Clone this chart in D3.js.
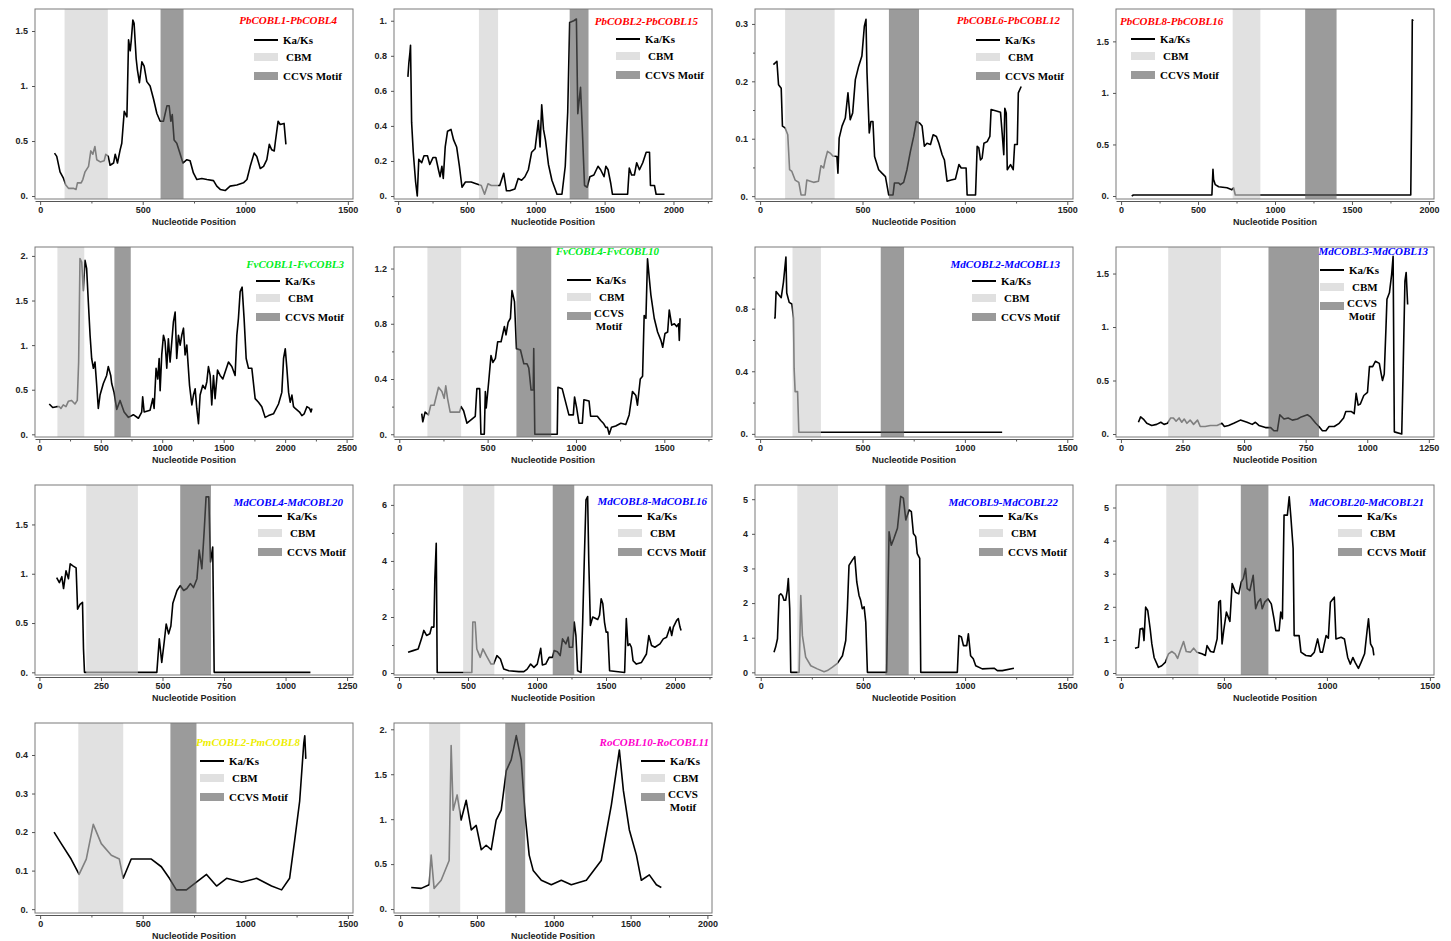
<!DOCTYPE html>
<html>
<head>
<meta charset="utf-8">
<script src="https://cdn.jsdelivr.net/npm/d3@7/dist/d3.min.js"></script>
<style>
body { margin: 0; background: #fff; }
.tick-label { font-family: "Liberation Sans", Arial, sans-serif; font-weight: bold; font-size: 9px; fill: #222; }
.axis-title { font-family: "Liberation Sans", Arial, sans-serif; font-weight: bold; font-size: 9px; fill: #222; }
.legend-text { font-family: "Liberation Serif", "Times New Roman", serif; font-weight: bold; font-size: 11px; fill: #000; }
.panel-title { font-family: "Liberation Serif", "Times New Roman", serif; font-style: italic; font-weight: bold; font-size: 11px; }
</style>
</head>
<body>
<svg id="chart" width="1451" height="941"></svg>
<script>
// Ka/Ks sliding window values: [nucleotide position, Ka/Ks]
var kaks1 = [[70,0.39],[81,0.36],[97,0.22],[114,0.16],[125,0.10],[138,0.07],[162,0.07],[175,0.06],[182,0.12],[200,0.12],[208,0.15],[219,0.22],[236,0.27],[247,0.41],[257,0.38],[267,0.45],[276,0.33],[293,0.31],[312,0.32],[320,0.38],[332,0.36],[341,0.28],[358,0.30],[366,0.38],[377,0.30],[390,0.42],[398,0.48],[410,0.77],[423,0.72],[431,1.42],[439,1.32],[444,1.41],[452,1.60],[458,1.57],[468,1.25],[474,1.15],[484,1.03],[496,1.22],[507,1.18],[520,1.04],[536,1.00],[553,0.88],[569,0.75],[585,0.68],[601,0.68],[618,0.82],[629,0.82],[637,0.68],[644,0.74],[653,0.51],[666,0.48],[683,0.38],[696,0.30],[715,0.33],[731,0.32],[747,0.21],[764,0.15],[788,0.16],[813,0.15],[845,0.14],[861,0.09],[878,0.06],[902,0.05],[926,0.09],[959,0.10],[991,0.12],[1008,0.15],[1024,0.27],[1043,0.39],[1056,0.36],[1073,0.25],[1089,0.27],[1105,0.33],[1117,0.47],[1129,0.42],[1141,0.41],[1147,0.50],[1160,0.68],[1170,0.65],[1189,0.66],[1198,0.47]];

var kaks2 = [[71,0.68],[78,0.76],[86,0.82],[90,0.86],[98,0.42],[110,0.25],[127,0.08],[139,0.0],[150,0.21],[171,0.19],[188,0.23],[213,0.23],[230,0.18],[254,0.22],[274,0.22],[293,0.15],[305,0.11],[318,0.17],[328,0.10],[342,0.28],[359,0.37],[384,0.38],[403,0.32],[425,0.28],[445,0.17],[464,0.05],[489,0.08],[530,0.08],[567,0.07],[604,0.06],[628,0.01],[653,0.07],[677,0.06],[701,0.06],[738,0.06],[767,0.13],[787,0.03],[811,0.03],[848,0.04],[872,0.10],[897,0.09],[921,0.11],[946,0.15],[970,0.25],[995,0.27],[1019,0.43],[1031,0.28],[1043,0.52],[1056,0.38],[1070,0.32],[1092,0.18],[1117,0.09],[1154,0.01],[1190,0.01],[1214,0.17],[1232,0.48],[1246,0.99],[1276,1.0],[1295,1.01],[1305,0.47],[1325,0.62],[1337,0.40],[1354,0.06],[1373,0.05],[1393,0.11],[1422,0.12],[1452,0.17],[1471,0.15],[1496,0.11],[1509,0.17],[1525,0.15],[1545,0.07],[1557,0.01],[1667,0.01],[1679,0.16],[1696,0.12],[1716,0.12],[1733,0.19],[1753,0.15],[1777,0.19],[1802,0.25],[1826,0.25],[1833,0.06],[1862,0.06],[1874,0.01],[1935,0.01]];

var kaks3 = [[65,0.229],[82,0.235],[90,0.194],[103,0.188],[109,0.122],[122,0.119],[135,0.107],[144,0.046],[155,0.043],[171,0.028],[189,0.024],[200,0.002],[220,0.002],[228,0.028],[245,0.026],[261,0.024],[285,0.026],[297,0.053],[310,0.049],[318,0.063],[329,0.078],[342,0.075],[355,0.070],[375,0.069],[380,0.040],[386,0.101],[400,0.122],[416,0.136],[429,0.180],[440,0.133],[452,0.145],[465,0.203],[481,0.226],[497,0.244],[509,0.296],[517,0.308],[522,0.215],[533,0.110],[541,0.130],[551,0.130],[559,0.069],[579,0.046],[595,0.040],[612,0.034],[628,0.002],[649,0.002],[656,0.023],[677,0.023],[685,0.020],[701,0.024],[717,0.046],[734,0.078],[750,0.104],[763,0.130],[780,0.127],[791,0.122],[802,0.087],[815,0.092],[832,0.090],[845,0.107],[861,0.104],[873,0.092],[889,0.072],[900,0.063],[913,0.026],[933,0.028],[954,0.030],[971,0.055],[982,0.049],[995,0.049],[1006,0.049],[1011,0.002],[1052,0.002],[1060,0.087],[1068,0.084],[1076,0.063],[1084,0.066],[1093,0.092],[1109,0.095],[1122,0.104],[1128,0.151],[1158,0.148],[1174,0.146],[1182,0.110],[1190,0.072],[1195,0.153],[1202,0.145],[1207,0.046],[1223,0.055],[1236,0.046],[1243,0.090],[1256,0.090],[1261,0.180],[1275,0.191]];

var kaks4 = [[69,0.0],[80,0.01],[590,0.01],[597,0.26],[601,0.16],[612,0.11],[634,0.09],[688,0.08],[720,0.06],[731,0.08],[742,0.01],[1882,0.01],[1888,0.85],[1892,1.71],[1899,1.70]];

var kaks5 = [[81,0.34],[109,0.30],[141,0.31],[163,0.31],[176,0.29],[195,0.33],[217,0.31],[236,0.37],[263,0.38],[290,0.34],[309,0.38],[320,0.81],[331,1.97],[345,1.93],[358,1.61],[372,1.95],[385,1.86],[399,1.48],[413,1.11],[426,0.85],[440,0.74],[453,0.81],[467,0.55],[480,0.29],[494,0.44],[521,0.57],[548,0.66],[561,0.76],[581,0.66],[589,0.57],[608,0.47],[630,0.28],[657,0.38],[690,0.25],[725,0.19],[765,0.22],[806,0.18],[833,0.25],[841,0.42],[853,0.25],[901,0.27],[923,0.40],[934,0.29],[950,0.74],[964,0.62],[975,0.85],[983,0.49],[996,0.89],[1010,1.11],[1023,1.04],[1037,0.74],[1050,1.07],[1064,0.81],[1078,1.04],[1091,1.26],[1105,1.37],[1118,0.85],[1132,1.11],[1146,1.00],[1159,1.11],[1173,1.19],[1186,0.89],[1200,1.00],[1222,0.55],[1241,0.33],[1254,0.44],[1268,0.51],[1281,0.29],[1295,0.12],[1308,0.44],[1330,0.55],[1349,0.51],[1363,0.59],[1376,0.76],[1390,0.66],[1403,0.33],[1417,0.66],[1430,0.40],[1450,0.72],[1471,0.66],[1493,0.62],[1539,0.81],[1566,0.76],[1593,0.66],[1607,1.11],[1620,1.30],[1634,1.60],[1650,1.65],[1666,1.30],[1683,0.85],[1702,0.74],[1729,0.74],[1756,0.40],[1783,0.36],[1810,0.31],[1837,0.19],[1865,0.21],[1905,0.23],[1946,0.34],[1973,0.47],[1987,0.85],[2001,0.96],[2014,0.74],[2028,0.47],[2041,0.36],[2055,0.44],[2068,0.31],[2082,0.29],[2117,0.25],[2136,0.21],[2155,0.23],[2177,0.31],[2199,0.29],[2210,0.25],[2218,0.29]];

var kaks6 = [[127,0.15],[133,0.09],[146,0.16],[165,0.14],[178,0.21],[197,0.21],[222,0.34],[241,0.31],[254,0.26],[263,0.35],[273,0.26],[288,0.16],[316,0.16],[341,0.16],[350,0.20],[364,0.17],[383,0.08],[411,0.11],[430,0.13],[439,0.33],[455,0.33],[462,0.00],[481,0.00],[487,0.31],[492,0.19],[506,0.38],[519,0.57],[530,0.52],[544,0.55],[557,0.67],[576,0.67],[595,0.78],[604,0.72],[616,0.81],[629,0.84],[638,1.04],[652,0.96],[663,0.62],[686,0.61],[705,0.51],[723,0.51],[733,0.48],[746,0.32],[758,0.32],[761,0.62],[767,0.00],[860,0.00],[894,0.00],[898,0.34],[922,0.33],[936,0.26],[960,0.14],[985,0.14],[992,0.27],[1004,0.19],[1017,0.08],[1036,0.08],[1045,0.25],[1074,0.24],[1083,0.13],[1121,0.13],[1140,0.10],[1155,0.08],[1169,0.05],[1178,0.05],[1188,0.00],[1201,0.05],[1225,0.06],[1254,0.08],[1282,0.07],[1301,0.14],[1320,0.31],[1339,0.28],[1348,0.21],[1364,0.40],[1377,0.42],[1386,0.86],[1396,0.84],[1405,1.27],[1415,1.13],[1424,1.01],[1443,0.84],[1462,0.74],[1481,0.68],[1491,0.63],[1504,0.73],[1519,0.74],[1528,0.90],[1542,0.79],[1557,0.80],[1570,0.78],[1581,0.80],[1585,0.68],[1589,0.84]];

var kaks7 = [[68,0.74],[73,0.74],[78,0.91],[90,0.89],[103,0.87],[114,0.97],[126,1.13],[130,0.90],[142,0.84],[155,0.83],[163,0.74],[166,0.42],[171,0.27],[183,0.27],[189,0.01],[1182,0.01]];

var kaks8 = [[71,0.11],[80,0.16],[91,0.14],[105,0.10],[125,0.08],[145,0.09],[162,0.11],[175,0.09],[189,0.10],[202,0.15],[213,0.15],[224,0.12],[236,0.15],[247,0.11],[257,0.14],[268,0.10],[281,0.13],[295,0.09],[311,0.13],[322,0.07],[342,0.07],[363,0.08],[390,0.08],[410,0.10],[420,0.07],[437,0.08],[458,0.10],[485,0.13],[512,0.11],[533,0.09],[546,0.11],[560,0.08],[587,0.06],[608,0.06],[621,0.03],[635,0.03],[645,0.18],[662,0.14],[679,0.15],[696,0.13],[717,0.14],[732,0.16],[757,0.18],[770,0.16],[791,0.10],[804,0.07],[818,0.03],[832,0.03],[845,0.07],[866,0.07],[886,0.10],[904,0.15],[913,0.21],[936,0.21],[947,0.19],[955,0.38],[963,0.27],[972,0.28],[986,0.36],[1001,0.39],[1009,0.63],[1022,0.63],[1033,0.68],[1049,0.66],[1056,0.57],[1062,0.50],[1069,0.56],[1076,0.99],[1080,1.26],[1090,1.32],[1099,1.49],[1105,1.66],[1110,0.02],[1140,0.00],[1145,0.52],[1153,1.43],[1158,1.51],[1164,1.21]];

var kaks9 = [[70,0.96],[81,0.91],[91,0.97],[98,0.85],[108,1.03],[118,0.95],[125,1.10],[136,1.08],[149,1.06],[155,0.64],[165,0.69],[175,0.71],[179,0.24],[183,0.00],[477,0.00],[487,0.34],[497,0.10],[507,0.31],[515,0.49],[525,0.39],[534,0.47],[542,0.70],[559,0.83],[572,0.88],[586,0.83],[599,0.85],[613,0.90],[626,0.86],[640,0.95],[649,1.24],[660,1.05],[670,1.46],[677,1.78],[688,1.78],[695,1.12],[704,1.27],[710,0.00],[1101,0.00]];

var kaks10 = [[66,0.74],[102,0.80],[139,0.86],[163,1.22],[180,1.52],[200,1.34],[224,1.40],[236,1.64],[253,1.64],[260,3.37],[270,4.63],[277,0.02],[528,0.02],[535,1.82],[552,1.82],[564,0.86],[589,0.56],[608,0.86],[633,0.62],[667,0.32],[686,0.32],[710,0.62],[735,0.50],[759,0.14],[796,0.08],[869,0.05],[905,0.05],[929,0.14],[954,0.32],[978,0.20],[1002,0.32],[1027,0.88],[1039,0.29],[1063,0.32],[1088,0.56],[1112,0.56],[1124,0.80],[1148,0.76],[1168,0.62],[1185,1.22],[1209,1.04],[1226,1.28],[1234,0.92],[1258,0.92],[1270,1.82],[1282,1.34],[1294,0.08],[1319,0.02],[1331,1.82],[1343,4.09],[1355,6.18],[1367,6.30],[1375,4.03],[1387,1.70],[1404,2.00],[1440,1.91],[1453,2.06],[1465,2.65],[1477,2.47],[1489,1.82],[1501,1.46],[1513,1.46],[1526,0.08],[1635,0.02],[1647,1.94],[1659,0.98],[1672,1.04],[1684,0.92],[1696,0.44],[1720,0.32],[1757,0.38],[1793,0.68],[1810,1.34],[1830,0.98],[1854,0.92],[1891,1.04],[1915,1.22],[1939,1.28],[1964,1.64],[1976,1.34],[1988,1.64],[2012,1.88],[2024,1.94],[2036,1.64],[2044,1.52]];

var kaks11 = [[65,0.58],[73,0.73],[82,0.97],[90,2.22],[98,2.27],[106,2.22],[114,2.08],[122,2.08],[130,2.37],[135,2.71],[142,1.84],[147,0.00],[188,0.00],[192,1.06],[196,2.22],[204,1.06],[220,0.44],[245,0.19],[277,0.10],[310,0.02],[326,0.05],[351,0.15],[375,0.26],[400,0.48],[416,0.92],[424,1.84],[432,3.09],[448,3.24],[460,3.34],[470,2.61],[481,2.22],[489,2.08],[497,1.84],[506,1.89],[514,1.45],[522,0.00],[616,0.00],[628,4.06],[639,3.67],[652,3.87],[669,4.16],[685,5.08],[698,5.03],[710,4.40],[726,4.69],[737,4.64],[747,4.01],[758,3.92],[766,3.43],[778,3.29],[783,0.00],[962,0.00],[970,1.06],[982,1.02],[992,0.77],[1008,0.77],[1016,1.11],[1027,0.48],[1040,0.39],[1052,0.19],[1084,0.10],[1142,0.12],[1158,0.05],[1182,0.05],[1239,0.12]];

var kaks12 = [[68,0.75],[85,0.78],[93,1.33],[106,1.35],[112,0.98],[120,1.99],[130,1.89],[142,1.33],[150,0.88],[161,0.47],[182,0.17],[198,0.22],[215,0.32],[231,0.58],[247,0.65],[263,0.58],[275,0.44],[288,0.68],[304,0.95],[317,0.65],[337,0.63],[353,0.75],[369,0.63],[393,0.58],[410,0.53],[418,0.83],[435,0.65],[451,0.63],[467,1.03],[475,2.14],[483,2.19],[491,0.88],[499,1.28],[512,1.84],[529,1.56],[540,2.70],[556,2.44],[572,2.39],[584,2.75],[594,2.85],[605,3.16],[613,2.55],[626,2.49],[642,2.95],[654,1.94],[665,2.14],[678,2.24],[686,1.94],[698,2.14],[714,2.24],[730,2.09],[743,1.64],[752,1.28],[768,1.28],[776,1.84],[784,1.64],[792,4.77],[808,4.77],[817,5.32],[825,4.72],[836,3.76],[841,1.13],[865,1.13],[874,0.63],[898,0.53],[922,0.51],[939,0.63],[955,1.03],[968,0.63],[979,0.63],[996,1.13],[1007,1.05],[1017,2.14],[1036,2.29],[1044,1.03],[1069,1.08],[1085,1.03],[1101,0.47],[1114,0.27],[1126,0.47],[1137,0.32],[1153,0.14],[1166,0.32],[1183,0.58],[1196,1.33],[1202,1.64],[1212,0.88],[1223,0.75],[1228,0.53]];

var kaks13 = [[68,0.20],[103,0.17],[151,0.13],[190,0.09],[225,0.13],[259,0.22],[298,0.17],[347,0.14],[386,0.13],[405,0.08],[444,0.13],[493,0.13],[542,0.13],[591,0.11],[630,0.08],[664,0.05],[713,0.05],[762,0.07],[811,0.09],[860,0.06],[909,0.08],[982,0.07],[1055,0.08],[1128,0.06],[1177,0.05],[1216,0.08],[1241,0.18],[1265,0.28],[1285,0.43],[1290,0.45],[1295,0.39]];

var kaks14 = [[72,0.24],[137,0.23],[189,0.27],[202,0.60],[221,0.23],[267,0.32],[319,0.54],[332,1.82],[345,1.10],[371,1.27],[397,0.99],[430,1.21],[463,0.88],[495,0.93],[528,0.66],[560,0.71],[593,0.66],[625,0.99],[658,1.10],[691,1.54],[723,1.66],[756,1.93],[788,1.66],[814,1.04],[840,0.60],[866,0.43],[919,0.32],[984,0.27],[1049,0.32],[1114,0.27],[1212,0.32],[1309,0.54],[1375,1.16],[1427,1.77],[1453,1.32],[1492,0.88],[1538,0.60],[1570,0.32],[1622,0.38],[1668,0.27],[1700,0.24]];

var pairNames = ["PbCOBL1-PbCOBL4", "PbCOBL2-PbCOBL15", "PbCOBL6-PbCOBL12", "PbCOBL8-PbCOBL16",
  "FvCOBL1-FvCOBL3", "FvCOBL4-FvCOBL10", "MdCOBL2-MdCOBL13", "MdCOBL3-MdCOBL13",
  "MdCOBL4-MdCOBL20", "MdCOBL8-MdCOBL16", "MdCOBL9-MdCOBL22", "MdCOBL20-MdCOBL21",
  "PmCOBL2-PmCOBL8", "RoCOBL10-RoCOBL11"];
var pairColors = ["#ff0000", "#ff0000", "#ff0000", "#ff0000", "#00ee22", "#00ee22", "#0000ff", "#0000ff",
  "#0000ff", "#0000ff", "#0000ff", "#0000ff", "#eeee00", "#ff00cc"];

// domain regions along the alignment
var cbmStart = [119, 587, 122, 725, 147, 159, 158, 192, 190, 465, 179, 220, 186, 189];
var cbmEnd = [330, 726, 364, 905, 366, 350, 297, 406, 400, 691, 378, 376, 405, 391];
var ccvsStart = [587, 1246, 629, 1196, 611, 663, 589, 599, 572, 1114, 610, 582, 635, 684];
var ccvsEnd = [699, 1383, 776, 1400, 744, 860, 703, 804, 697, 1270, 724, 716, 762, 814];

// tick labels
var yTickValues = [[0, 0.5, 1, 1.5], [0, 0.2, 0.4, 0.6, 0.8, 1], [0, 0.1, 0.2, 0.3], [0, 0.5, 1, 1.5],
  [0, 0.5, 1, 1.5, 2], [0, 0.4, 0.8, 1.2], [0, 0.4, 0.8], [0, 0.5, 1, 1.5],
  [0, 0.5, 1, 1.5], [0, 2, 4, 6], [0, 1, 2, 3, 4, 5], [0, 1, 2, 3, 4, 5],
  [0, 0.1, 0.2, 0.3, 0.4], [0, 0.5, 1, 1.5, 2]];
var yTickText = [["0.", "0.5", "1.", "1.5"], ["0.", "0.2", "0.4", "0.6", "0.8", "1."], ["0.", "0.1", "0.2", "0.3"], ["0.", "0.5", "1.", "1.5"],
  ["0.", "0.5", "1.", "1.5", "2."], ["0.", "0.4", "0.8", "1.2"], ["0.", "0.4", "0.8"], ["0.", "0.5", "1.", "1.5"],
  ["0.", "0.5", "1.", "1.5"], ["0", "2", "4", "6"], ["0", "1", "2", "3", "4", "5"], ["0", "1", "2", "3", "4", "5"],
  ["0.", "0.1", "0.2", "0.3", "0.4"], ["0.", "0.5", "1.", "1.5", "2."]];
var yMinorTicks = [[], [], [0.05, 0.15, 0.25], [], [], [0.2, 0.6, 1.0], [0.2, 0.6, 1.0], [], [], [1, 3, 5], [], [], [], []];
var xTickValues = [[0, 500, 1000, 1500], [0, 500, 1000, 1500, 2000], [0, 500, 1000, 1500], [0, 500, 1000, 1500, 2000],
  [0, 500, 1000, 1500, 2000, 2500], [0, 500, 1000, 1500], [0, 500, 1000, 1500], [0, 250, 500, 750, 1000, 1250],
  [0, 250, 500, 750, 1000, 1250], [0, 500, 1000, 1500, 2000], [0, 500, 1000, 1500], [0, 500, 1000, 1500],
  [0, 500, 1000, 1500], [0, 500, 1000, 1500, 2000]];
var xMinorTicks = [[250, 750, 1250], [250, 750, 1250, 1750, 2250], [250, 750, 1250], [250, 750, 1250, 1750],
  [250, 750, 1250, 1750, 2250], [250, 750, 1250, 1750], [250, 750, 1250], [],
  [], [250, 750, 1250, 1750, 2250], [250, 750, 1250], [250, 750, 1250],
  [250, 750, 1250], [250, 750, 1250, 1750]];

var seriesList = [kaks1, kaks2, kaks3, kaks4, kaks5, kaks6, kaks7, kaks8, kaks9, kaks10, kaks11, kaks12, kaks13, kaks14];

// layout of each small panel (frame position, axis extents, legend / title placement)
var colLeft = [35, 394, 755, 1116];
var rowTop = [9, 247, 485, 723];
var frameW = 318, frameH = 190;

var layout = [
  { col: 0, row: 0, xd: [-25, 1525], yd: [-0.027, 1.70], lx: 219, ly: 31, two: false, tx: 302, ty: 15, anchor: "end" },
  { col: 1, row: 0, xd: [-30, 2280], yd: [-0.017, 1.067], lx: 222, ly: 30, two: false, tx: 304, ty: 16, anchor: "end" },
  { col: 2, row: 0, xd: [-25, 1528], yd: [-0.005, 0.326], lx: 221, ly: 31, two: false, tx: 305, ty: 15, anchor: "end" },
  { col: 3, row: 0, xd: [-33, 2033], yd: [-0.029, 1.814], lx: 15, ly: 30, two: false, tx: 4, ty: 16, anchor: "start" },
  { col: 0, row: 1, xd: [-35, 2552], yd: [-0.03, 2.10], lx: 221, ly: 34, two: false, tx: 309, ty: 21, anchor: "end" },
  { col: 1, row: 1, xd: [-30, 1770], yd: [-0.02, 1.356], lx: 173, ly: 33, two: true, tx: 265, ty: 8, anchor: "end" },
  { col: 2, row: 1, xd: [-25, 1528], yd: [-0.02, 1.194], lx: 217, ly: 34, two: false, tx: 305, ty: 21, anchor: "end" },
  { col: 3, row: 1, xd: [-20, 1271], yd: [-0.028, 1.748], lx: 204, ly: 23, two: true, tx: 312, ty: 8, anchor: "end" },
  { col: 0, row: 2, xd: [-18, 1274], yd: [-0.027, 1.90], lx: 223, ly: 31, two: false, tx: 308, ty: 21, anchor: "end" },
  { col: 1, row: 2, xd: [-36, 2268], yd: [-0.07, 6.71], lx: 224, ly: 31, two: false, tx: 313, ty: 20, anchor: "end" },
  { col: 2, row: 2, xd: [-28, 1528], yd: [-0.077, 5.41], lx: 224, ly: 31, two: false, tx: 303, ty: 21, anchor: "end" },
  { col: 3, row: 2, xd: [-24, 1520], yd: [-0.06, 5.68], lx: 222, ly: 31, two: false, tx: 308, ty: 21, anchor: "end" },
  { col: 0, row: 3, xd: [-25, 1525], yd: [-0.01, 0.483], lx: 165, ly: 38, two: false, tx: 265, ty: 23, anchor: "end" },
  { col: 1, row: 3, xd: [-40, 2030], yd: [-0.044, 2.07], lx: 247, ly: 38, two: true, tx: 315, ty: 23, anchor: "end" }
];

var svg = d3.select("#chart");

layout.forEach(function(p, i) {
  var L = colLeft[p.col], T = rowTop[p.row];
  var x = d3.scaleLinear().domain(p.xd).range([L, L + frameW]);
  var y = d3.scaleLinear().domain(p.yd).range([T + frameH, T]);
  var g = svg.append("g").attr("class", "panel");

  // Ka/Ks line
  var line = d3.line()
    .x(function(d) { return x(d[0]); })
    .y(function(d) { return y(d[1]); });
  g.append("path")
    .datum(seriesList[i])
    .attr("d", line)
    .attr("fill", "none")
    .attr("stroke", "#000")
    .attr("stroke-width", 1.6)
    .attr("stroke-linejoin", "round");

  // shaded regions sit over the line (that is why the line looks grey inside them)
  g.append("rect")
    .attr("x", x(cbmStart[i])).attr("y", T)
    .attr("width", x(cbmEnd[i]) - x(cbmStart[i])).attr("height", frameH)
    .attr("fill", "#cfcfcf").attr("fill-opacity", 0.62);
  g.append("rect")
    .attr("x", x(ccvsStart[i])).attr("y", T)
    .attr("width", x(ccvsEnd[i]) - x(ccvsStart[i])).attr("height", frameH)
    .attr("fill", "#5d5d5d").attr("fill-opacity", 0.62);

  // frame
  g.append("rect")
    .attr("x", L).attr("y", T).attr("width", frameW).attr("height", frameH)
    .attr("fill", "none").attr("stroke", "#7a7a7a").attr("stroke-width", 1);

  // x axis (a separate line just under the frame)
  var xAxis = g.append("g")
    .attr("transform", "translate(0," + (T + frameH + 2) + ")")
    .call(d3.axisBottom(x).tickValues(xTickValues[i]).tickSize(4).tickSizeOuter(0).tickPadding(2).tickFormat(d3.format("d")));
  xAxis.select(".domain").attr("stroke", "#555");
  xAxis.selectAll(".tick line").attr("stroke", "#555");
  xAxis.selectAll("text").attr("class", "tick-label").attr("fill", null);
  g.append("g")
    .attr("transform", "translate(0," + (T + frameH + 2) + ")")
    .call(d3.axisBottom(x).tickValues(xMinorTicks[i]).tickSize(2.5).tickSizeOuter(0).tickFormat(""))
    .call(function(s) { s.select(".domain").remove(); s.selectAll("line").attr("stroke", "#555"); });

  // y axis
  var yAxis = g.append("g")
    .attr("transform", "translate(" + L + ",0)")
    .call(d3.axisLeft(y).tickValues(yTickValues[i]).tickSize(3).tickSizeOuter(0).tickPadding(4)
      .tickFormat(function(d, j) { return yTickText[i][j]; }));
  yAxis.select(".domain").remove();
  yAxis.selectAll(".tick line").attr("stroke", "#555");
  yAxis.selectAll("text").attr("class", "tick-label").attr("fill", null);
  g.append("g")
    .attr("transform", "translate(" + L + ",0)")
    .call(d3.axisLeft(y).tickValues(yMinorTicks[i]).tickSize(2).tickSizeOuter(0).tickFormat(""))
    .call(function(s) { s.select(".domain").remove(); s.selectAll("line").attr("stroke", "#555"); });

  g.append("text")
    .attr("class", "axis-title")
    .attr("x", L + frameW / 2)
    .attr("y", T + frameH + 26)
    .attr("text-anchor", "middle")
    .text("Nucleotide Position");

  // title
  g.append("text")
    .attr("class", "panel-title")
    .attr("x", L + p.tx)
    .attr("y", T + p.ty)
    .attr("text-anchor", p.anchor)
    .attr("fill", pairColors[i])
    .text(pairNames[i]);

  // legend
  var lx = L + p.lx, ly = T + p.ly;
  g.append("line")
    .attr("x1", lx).attr("x2", lx + 24).attr("y1", ly).attr("y2", ly)
    .attr("stroke", "#000").attr("stroke-width", 2);
  g.append("text").attr("class", "legend-text").attr("x", lx + 29).attr("y", ly + 4).text("Ka/Ks");
  g.append("rect").attr("x", lx).attr("y", ly + 13).attr("width", 24).attr("height", 8).attr("fill", "#e0e0e0");
  g.append("text").attr("class", "legend-text").attr("x", lx + 32).attr("y", ly + 21).text("CBM");
  g.append("rect").attr("x", lx).attr("y", ly + 32).attr("width", 24).attr("height", 8).attr("fill", "#9a9a9a");
  if (p.two) {
    g.append("text").attr("class", "legend-text").attr("x", lx + 42).attr("y", ly + 37).attr("text-anchor", "middle").text("CCVS");
    g.append("text").attr("class", "legend-text").attr("x", lx + 42).attr("y", ly + 50).attr("text-anchor", "middle").text("Motif");
  } else {
    g.append("text").attr("class", "legend-text").attr("x", lx + 29).attr("y", ly + 40).text("CCVS Motif");
  }
});
</script>
</body>
</html>
